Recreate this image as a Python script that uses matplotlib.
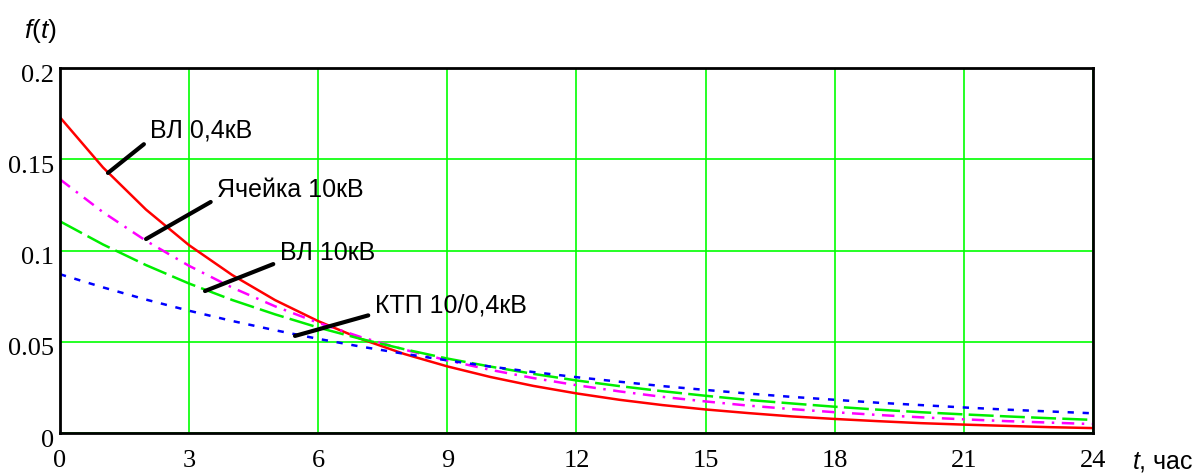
import matplotlib.pyplot as plt
import matplotlib.transforms as mtransforms

plt.rcParams['font.family'] = ['Liberation Sans', 'DejaVu Sans']
plt.rcParams['mathtext.fontset'] = 'custom'
plt.rcParams['mathtext.it'] = 'Liberation Sans:italic'
plt.rcParams['mathtext.rm'] = 'Liberation Sans'

# часы
t = list(range(25))

# плотность распределения f(t)
vl04 = [0.173, 0.1455, 0.1224, 0.1029, 0.0866, 0.0728, 0.0613, 0.0515, 0.0433,
        0.0365, 0.0307, 0.0258, 0.0217, 0.0182, 0.0153, 0.0129, 0.0109, 0.0091,
        0.0077, 0.0065, 0.0054, 0.0046, 0.0039, 0.0032, 0.0027]
yach10 = [0.139, 0.1210, 0.1053, 0.0916, 0.0797, 0.0694, 0.0604, 0.0525, 0.0457,
          0.0398, 0.0346, 0.0301, 0.0262, 0.0228, 0.0198, 0.0173, 0.0150, 0.0131,
          0.0114, 0.0099, 0.0086, 0.0075, 0.0065, 0.0057, 0.0049]
vl10 = [0.116, 0.1033, 0.0920, 0.0819, 0.0729, 0.0650, 0.0578, 0.0515, 0.0459,
        0.0408, 0.0364, 0.0324, 0.0288, 0.0257, 0.0229, 0.0204, 0.0181, 0.0162,
        0.0144, 0.0128, 0.0114, 0.0102, 0.0091, 0.0081, 0.0072]
ktp = [0.087, 0.0798, 0.0731, 0.0670, 0.0614, 0.0563, 0.0516, 0.0473, 0.0434,
       0.0398, 0.0364, 0.0334, 0.0306, 0.0281, 0.0257, 0.0236, 0.0216, 0.0198,
       0.0182, 0.0166, 0.0153, 0.0140, 0.0128, 0.0118, 0.0108]

xticks = [0, 3, 6, 9, 12, 15, 18, 21, 24]
yticks = [0, 0.05, 0.1, 0.15, 0.2]
ytick_labels = ['0', '0.05', '0.1', '0.15', '0.2']

fig = plt.figure(figsize=(11.97, 4.75), dpi=100)
ax = fig.add_axes([0.0501, 0.0884, 0.8630, 0.7684])

ax.plot(t, vl04, color='#ff0000', lw=1.8, ls='-')
ax.plot(t, yach10, color='#ff00ff', lw=1.8, ls=(0, (5, 3, 1, 3)))
ax.plot(t, vl10, color='#00ee00', lw=1.8, ls=(0, (10, 2.5)))
ax.plot(t, ktp, color='#0000ff', lw=1.8, ls=(0, (2.5, 3.5)))

ax.set_xlim(0, 24)
ax.set_ylim(0, 0.2)
ax.set_xticks(xticks)
ax.set_yticks(yticks)
ax.set_yticklabels(ytick_labels)
ax.grid(True, color='#00ff00', lw=1.2)
ax.set_axisbelow(True)
ax.tick_params(length=0, labelsize=19, pad=4)
ax.tick_params(axis='x', pad=12)
shift = mtransforms.ScaledTranslation(0, -0.05, fig.dpi_scale_trans)
for lab in ax.get_xticklabels() + ax.get_yticklabels():
    lab.set_fontfamily('Liberation Serif')
for lab in ax.get_yticklabels():
    lab.set_transform(lab.get_transform() + shift)
for sp in ax.spines.values():
    sp.set_linewidth(2)
    sp.set_color('black')

# подписи кривых
notes = [
    ('ВЛ 0,4кВ', (1.115, 0.1425), (2.09, 0.1655)),
    ('Ячейка 10кВ', (2.0, 0.1063), (3.65, 0.1332)),
    ('ВЛ 10кВ', (3.37, 0.0778), (5.11, 0.0986)),
    ('КТП 10/0,4кВ', (5.46, 0.0532), (7.32, 0.0701)),
]
for txt, xy, xyt in notes:
    ax.annotate(txt, xy=xy, xytext=xyt, fontsize=18, ha='left', va='center',
                arrowprops=dict(arrowstyle='-', lw=3, color='black',
                                relpos=(0, 0.15), shrinkA=3, shrinkB=0))

fig.text(0.0334, 0.935, r'$f(t)$', fontsize=19, ha='center', va='center')
fig.text(0.997, 0.027, r'$t$, час', fontsize=18, ha='right', va='center')

fig.savefig('out.png', dpi=100, facecolor='white')
